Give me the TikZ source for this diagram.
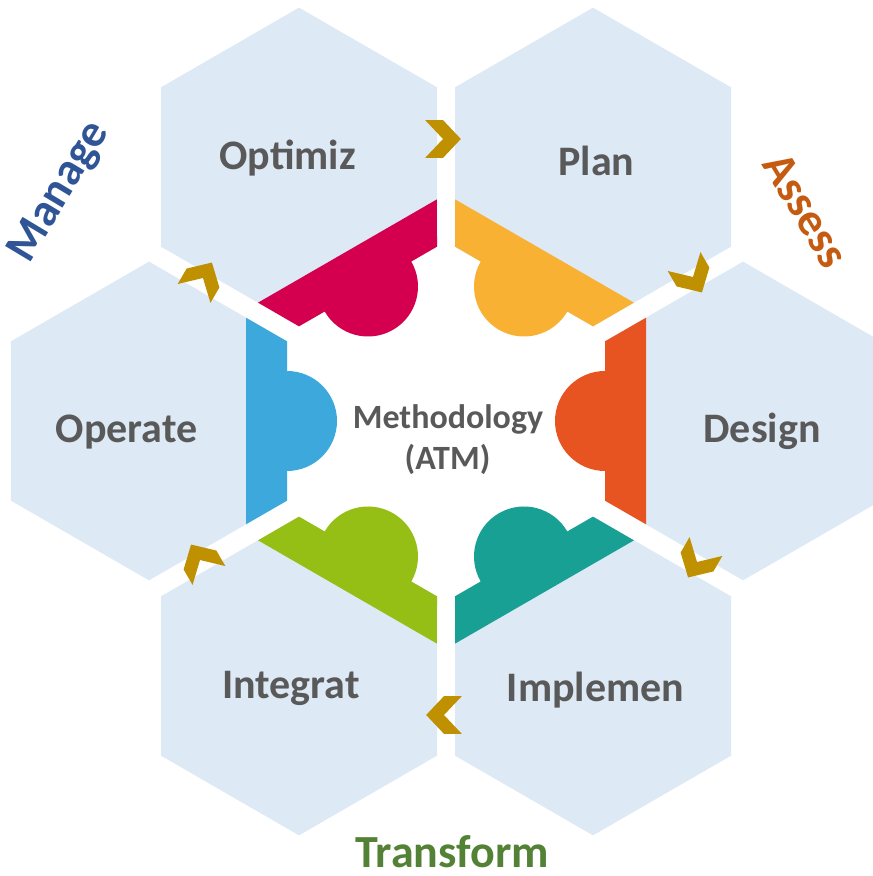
\documentclass[tikz,border=0pt]{standalone}
\usepackage{fontspec}
\setmainfont{Carlito}
\definecolor{hexblue}{HTML}{DDE9F5}
\definecolor{cpink}{HTML}{D4004F}
\definecolor{cyellow}{HTML}{F8B133}
\definecolor{corange}{HTML}{E75421}
\definecolor{cteal}{HTML}{18A094}
\definecolor{cgreen}{HTML}{96BF15}
\definecolor{cblue}{HTML}{3DA8DC}
\definecolor{chevgold}{HTML}{BF9000}
\definecolor{txtgray}{HTML}{595959}
\definecolor{mblue}{HTML}{2F5597}
\definecolor{aorange}{HTML}{C55A11}
\definecolor{tgreen}{HTML}{538135}
\begin{document}
\begin{tikzpicture}[x=1pt,y=1pt]
\tikzset{
  lbl/.style={font=\fontsize{42}{50}\selectfont\bfseries, text=txtgray, anchor=base, inner sep=0pt},
  ctr/.style={font=\fontsize{34}{40}\selectfont\bfseries, text=txtgray, anchor=base, inner sep=0pt},
  phase/.style={font=\fontsize{46}{54}\selectfont\bfseries, inner sep=0pt},
  chev/.style={fill=chevgold},
}
\useasboundingbox (0,0) rectangle (873,876);
% hexagon with puzzle piece, local frame: piece faces +x
\newcommand\hexpiece[4]{%
  \begin{scope}[shift={(#1,#2)}, rotate=#3]
    \fill[hexblue] (90:159.35) -- (150:159.35) -- (210:159.35) -- (270:159.35) -- (330:159.35) -- (30:159.35) -- cycle;
    \fill[#4] (97,103.3) -- (138,79.68) -- (138,50) arc[start angle=90, end angle=-90, radius=50] -- (138,-79.68) -- (97,-103.3) -- cycle;
  \end{scope}}
\newcommand\chevron[3]{%
  \begin{scope}[shift={(#1,#2)}, rotate=#3, scale=1.05]
    \fill[chev] (-17,18) -- (0,18) -- (17,0) -- (0,-18) -- (-17,-18) -- (0,0) -- cycle;
  \end{scope}}
\hexpiece{299}{709}{-60}{cpink}
\hexpiece{593}{709}{-120}{cyellow}
\hexpiece{743}{455}{180}{corange}
\hexpiece{593}{200}{120}{cteal}
\hexpiece{299}{200}{60}{cgreen}
\hexpiece{149}{455}{0}{cblue}
% chevrons
\chevron{443}{737}{0}
\chevron{693}{599}{-60}
\chevron{697}{314}{-120}
\chevron{444}{161}{180}
\chevron{200}{316}{120}
\chevron{203}{598}{60}
% labels
\node[lbl] (opt) at (287.5,706) {Optimiz};
\node[lbl] (plan) at (596.5,700) {Plan};
\node[lbl] (des) at (762,433) {Design};
\node[lbl] (imp) at (595.5,174) {Implemen};
\node[lbl] (int) at (291,177) {Integrat};
\node[lbl] (ope) at (126.5,433) {Operate};
\node[ctr] (meth) at (448,447) {Methodology};
\node[ctr] (atm) at (447.5,406) {(ATM)};
\node[phase, text=mblue, rotate=59] (man) at (60,684) {Manage};
\node[phase, text=aorange, rotate=-59] (ass) at (806,666) {Assess};
\node[phase, text=tgreen, anchor=base] (tra) at (452,9) {Transform};
\end{tikzpicture}
\end{document}
